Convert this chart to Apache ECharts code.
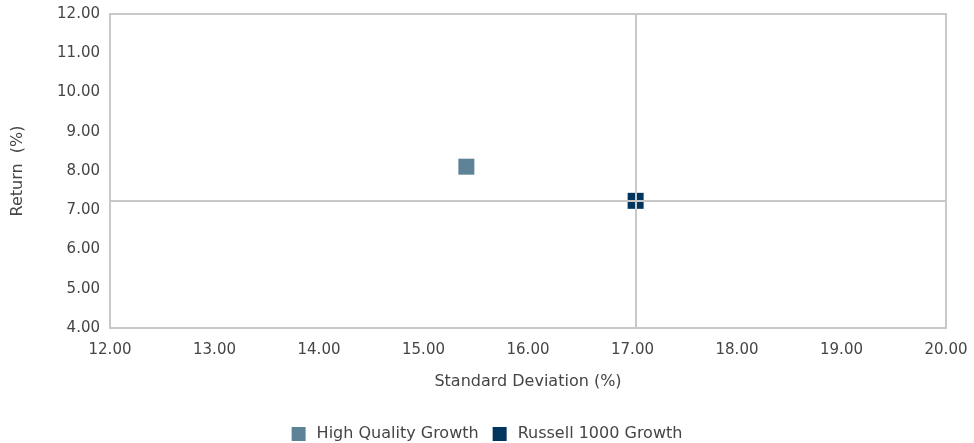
<!DOCTYPE html>
<html lang="en" style="height: 100%">
<head>
  <meta charset="utf-8">
</head>
<body style="height: 100%; margin: 0">
  <div id="container" style="width: 974px; height: 443px"></div>
  <script type="text/javascript" src="https://cdn.jsdelivr.net/npm/echarts@6/dist/echarts.min.js"></script>
  <script type="text/javascript">
    var seriesNames = ['High Quality Growth', 'Russell 1000 Growth'];
    var seriesColors = ['#5f8396', '#003560'];
    var stdDev = [15.41, 17.03];
    var returns = [8.11, 7.24];

    var dom = document.getElementById('container');
    var myChart = echarts.init(dom, null, { renderer: 'canvas' });
    var font = '"DejaVu Sans", sans-serif';
    var textColor = '#454545';

    var series = seriesNames.map(function (name, i) {
      return {
        name: name,
        type: 'scatter',
        symbol: 'rect',
        symbolSize: 16,
        itemStyle: { color: seriesColors[i], opacity: 1 },
        data: [[stdDev[i], returns[i]]],
        z: 2
      };
    });
    // crosshair through the benchmark, drawn above the markers
    series.push({
      type: 'scatter',
      data: [],
      z: 5,
      silent: true,
      markLine: {
        symbol: 'none',
        silent: true,
        label: { show: false },
        lineStyle: { color: '#c8c8c8', width: 2, type: 'solid' },
        data: [{ xAxis: stdDev[1] }, { yAxis: returns[1] }]
      }
    });

    var option = {
      animation: false,
      textStyle: { fontFamily: font },
      grid: { left: 110, right: 28, top: 14, bottom: 115, show: true, borderColor: '#c8c8c8', borderWidth: 2 },
      legend: {
        top: 421,
        left: 'center',
        itemWidth: 14,
        itemHeight: 14,
        itemGap: 14,
        icon: 'rect',
        textStyle: { fontSize: 16, color: textColor, fontFamily: font, padding: [0, 0, 0, 6] },
        data: seriesNames
      },
      xAxis: {
        type: 'value',
        min: 12, max: 20, interval: 1,
        name: 'Standard Deviation (%)',
        nameLocation: 'middle',
        nameGap: 46,
        nameTextStyle: { fontSize: 16, color: textColor },
        axisLine: { show: false },
        axisTick: { show: false },
        splitLine: { show: false },
        axisLabel: { fontSize: 15, color: textColor, margin: 15, formatter: function (v) { return v.toFixed(2); } }
      },
      yAxis: {
        type: 'value',
        min: 4, max: 12, interval: 1,
        name: 'Return  (%)',
        nameLocation: 'middle',
        nameGap: 84,
        nameTextStyle: { fontSize: 16, color: textColor },
        axisLine: { show: false },
        axisTick: { show: false },
        splitLine: { show: false },
        axisLabel: { fontSize: 15, color: textColor, margin: 10, formatter: function (v) { return v.toFixed(2); } }
      },
      series: series
    };

    myChart.setOption(option);
    window.addEventListener('resize', myChart.resize);
  </script>
</body>
</html>
